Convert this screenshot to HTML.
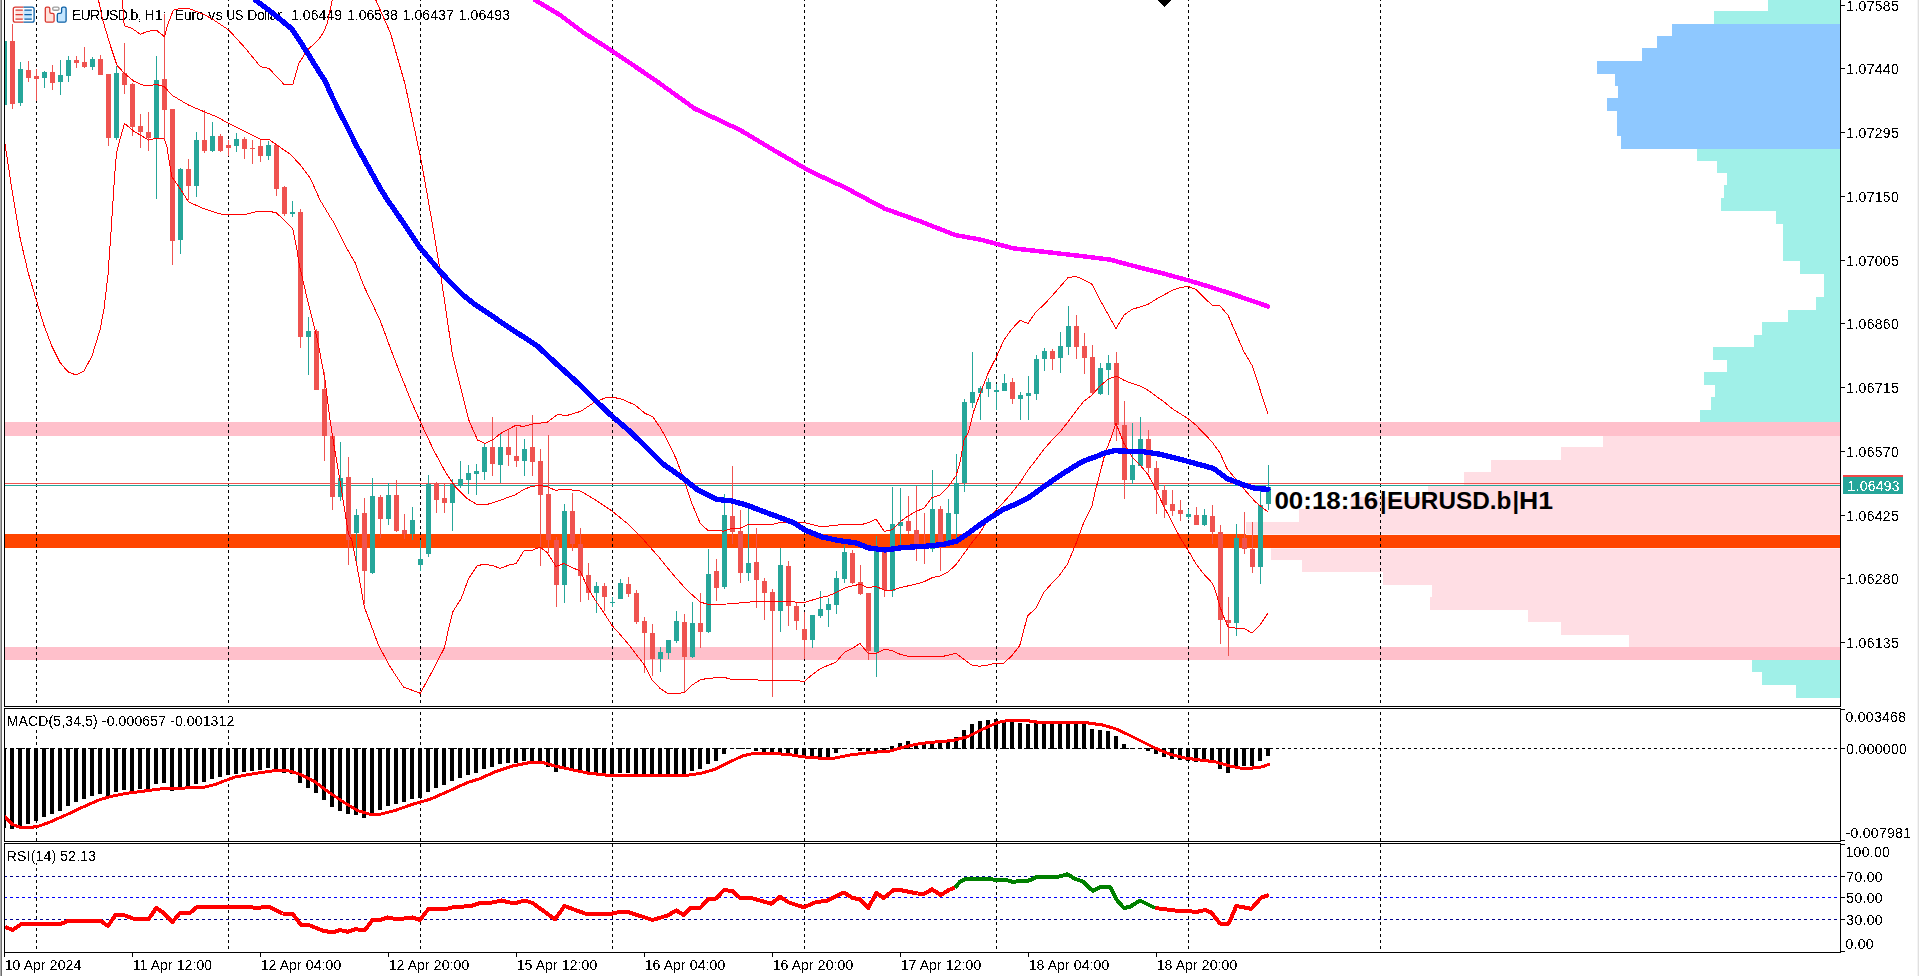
<!DOCTYPE html><html><head><meta charset="utf-8"><title>EURUSD.b H1</title><style>html,body{margin:0;padding:0;background:#fff;overflow:hidden}body{width:1919px;height:976px;position:relative;font-family:"Liberation Sans",sans-serif}</style></head><body><svg width="1919" height="976" viewBox="0 0 1919 976" style="position:absolute;left:0;top:0;font-family:'Liberation Sans',sans-serif;font-size:14px" shape-rendering="crispEdges">
<defs><clipPath id="cm"><rect x="5" y="0" width="1835" height="706"/></clipPath><clipPath id="cd"><rect x="5" y="709" width="1835" height="132"/></clipPath><clipPath id="cr"><rect x="5" y="844" width="1835" height="108"/></clipPath><filter id="th" x="-5%" y="-30%" width="110%" height="160%" color-interpolation-filters="sRGB"><feComponentTransfer><feFuncA type="discrete" tableValues="0 1"/></feComponentTransfer></filter></defs>
<rect x="0" y="0" width="1919" height="976" fill="#fff"/>
<g clip-path="url(#cm)">
<rect x="1768" y="0" width="72" height="11" fill="#A0F0E8"/>
<rect x="1714" y="11" width="126" height="13" fill="#A0F0E8"/>
<rect x="1672" y="24" width="168" height="12" fill="#8EC8FF"/>
<rect x="1657" y="36" width="183" height="12" fill="#8EC8FF"/>
<rect x="1642" y="48" width="198" height="13" fill="#8EC8FF"/>
<rect x="1597" y="61" width="243" height="13" fill="#8EC8FF"/>
<rect x="1615" y="74" width="225" height="12" fill="#8EC8FF"/>
<rect x="1618" y="86" width="222" height="12" fill="#8EC8FF"/>
<rect x="1607" y="98" width="233" height="13" fill="#8EC8FF"/>
<rect x="1617" y="111" width="223" height="12" fill="#8EC8FF"/>
<rect x="1617" y="123" width="223" height="13" fill="#8EC8FF"/>
<rect x="1621" y="136" width="219" height="13" fill="#8EC8FF"/>
<rect x="1697" y="149" width="143" height="12" fill="#A0F0E8"/>
<rect x="1717" y="161" width="123" height="12" fill="#A0F0E8"/>
<rect x="1727" y="173" width="113" height="12" fill="#A0F0E8"/>
<rect x="1724" y="185" width="116" height="13" fill="#A0F0E8"/>
<rect x="1721" y="198" width="119" height="13" fill="#A0F0E8"/>
<rect x="1776" y="211" width="64" height="13" fill="#A0F0E8"/>
<rect x="1783" y="224" width="57" height="12" fill="#A0F0E8"/>
<rect x="1783" y="236" width="57" height="12" fill="#A0F0E8"/>
<rect x="1783" y="248" width="57" height="13" fill="#A0F0E8"/>
<rect x="1800" y="261" width="40" height="13" fill="#A0F0E8"/>
<rect x="1824" y="274" width="16" height="12" fill="#A0F0E8"/>
<rect x="1824" y="286" width="16" height="11" fill="#A0F0E8"/>
<rect x="1816" y="297" width="24" height="13" fill="#A0F0E8"/>
<rect x="1788" y="310" width="52" height="12" fill="#A0F0E8"/>
<rect x="1762" y="322" width="78" height="13" fill="#A0F0E8"/>
<rect x="1754" y="335" width="86" height="12" fill="#A0F0E8"/>
<rect x="1713" y="347" width="127" height="13" fill="#A0F0E8"/>
<rect x="1727" y="360" width="113" height="12" fill="#A0F0E8"/>
<rect x="1704" y="372" width="136" height="13" fill="#A0F0E8"/>
<rect x="1715" y="385" width="125" height="12" fill="#A0F0E8"/>
<rect x="1711" y="397" width="129" height="13" fill="#A0F0E8"/>
<rect x="1700" y="410" width="140" height="12" fill="#A0F0E8"/>
<rect x="5" y="422" width="1835" height="14" fill="#FFC0CB"/>
<rect x="1603" y="436" width="237" height="11" fill="#FFDEE4"/>
<rect x="1561" y="447" width="279" height="13" fill="#FFDEE4"/>
<rect x="1491" y="460" width="349" height="12" fill="#FFDEE4"/>
<rect x="1464" y="472" width="376" height="13" fill="#FFDEE4"/>
<rect x="1428" y="485" width="412" height="12" fill="#FFDEE4"/>
<rect x="1350" y="497" width="490" height="12" fill="#FFDEE4"/>
<rect x="1299" y="509" width="541" height="13" fill="#FFDEE4"/>
<rect x="1246" y="522" width="594" height="13" fill="#FFDEE4"/>
<rect x="5" y="534" width="1835" height="14" fill="#FF4500"/>
<rect x="1271" y="548" width="569" height="12" fill="#FFDEE4"/>
<rect x="1302" y="560" width="538" height="12" fill="#FFDEE4"/>
<rect x="1383" y="572" width="457" height="13" fill="#FFDEE4"/>
<rect x="1432" y="585" width="408" height="12" fill="#FFDEE4"/>
<rect x="1430" y="597" width="410" height="13" fill="#FFDEE4"/>
<rect x="1528" y="610" width="312" height="12" fill="#FFDEE4"/>
<rect x="1561" y="622" width="279" height="13" fill="#FFDEE4"/>
<rect x="1629" y="635" width="211" height="12" fill="#FFDEE4"/>
<rect x="5" y="647" width="1835" height="13" fill="#FFC0CB"/>
<rect x="1752" y="660" width="88" height="12" fill="#A0F0E8"/>
<rect x="1762" y="672" width="78" height="13" fill="#A0F0E8"/>
<rect x="1796" y="685" width="44" height="13" fill="#A0F0E8"/>
<rect x="1246" y="534" width="594" height="1" fill="#FFEBF0"/>
<rect x="1271" y="548" width="569" height="1" fill="#FFEBF0"/>
</g>
<line x1="36.5" y1="-2" x2="36.5" y2="706" stroke="#000" stroke-width="1" stroke-dasharray="3 3" clip-path="url(#cm)"/>
<line x1="36.5" y1="-2" x2="36.5" y2="841" stroke="#000" stroke-width="1" stroke-dasharray="3 3" clip-path="url(#cd)"/>
<line x1="36.5" y1="-2" x2="36.5" y2="952" stroke="#000" stroke-width="1" stroke-dasharray="3 3" clip-path="url(#cr)"/>
<line x1="228.5" y1="-2" x2="228.5" y2="706" stroke="#000" stroke-width="1" stroke-dasharray="3 3" clip-path="url(#cm)"/>
<line x1="228.5" y1="-2" x2="228.5" y2="841" stroke="#000" stroke-width="1" stroke-dasharray="3 3" clip-path="url(#cd)"/>
<line x1="228.5" y1="-2" x2="228.5" y2="952" stroke="#000" stroke-width="1" stroke-dasharray="3 3" clip-path="url(#cr)"/>
<line x1="420.5" y1="-2" x2="420.5" y2="706" stroke="#000" stroke-width="1" stroke-dasharray="3 3" clip-path="url(#cm)"/>
<line x1="420.5" y1="-2" x2="420.5" y2="841" stroke="#000" stroke-width="1" stroke-dasharray="3 3" clip-path="url(#cd)"/>
<line x1="420.5" y1="-2" x2="420.5" y2="952" stroke="#000" stroke-width="1" stroke-dasharray="3 3" clip-path="url(#cr)"/>
<line x1="612.5" y1="-2" x2="612.5" y2="706" stroke="#000" stroke-width="1" stroke-dasharray="3 3" clip-path="url(#cm)"/>
<line x1="612.5" y1="-2" x2="612.5" y2="841" stroke="#000" stroke-width="1" stroke-dasharray="3 3" clip-path="url(#cd)"/>
<line x1="612.5" y1="-2" x2="612.5" y2="952" stroke="#000" stroke-width="1" stroke-dasharray="3 3" clip-path="url(#cr)"/>
<line x1="804.5" y1="-2" x2="804.5" y2="706" stroke="#000" stroke-width="1" stroke-dasharray="3 3" clip-path="url(#cm)"/>
<line x1="804.5" y1="-2" x2="804.5" y2="841" stroke="#000" stroke-width="1" stroke-dasharray="3 3" clip-path="url(#cd)"/>
<line x1="804.5" y1="-2" x2="804.5" y2="952" stroke="#000" stroke-width="1" stroke-dasharray="3 3" clip-path="url(#cr)"/>
<line x1="996.5" y1="-2" x2="996.5" y2="706" stroke="#000" stroke-width="1" stroke-dasharray="3 3" clip-path="url(#cm)"/>
<line x1="996.5" y1="-2" x2="996.5" y2="841" stroke="#000" stroke-width="1" stroke-dasharray="3 3" clip-path="url(#cd)"/>
<line x1="996.5" y1="-2" x2="996.5" y2="952" stroke="#000" stroke-width="1" stroke-dasharray="3 3" clip-path="url(#cr)"/>
<line x1="1188.5" y1="-2" x2="1188.5" y2="706" stroke="#000" stroke-width="1" stroke-dasharray="3 3" clip-path="url(#cm)"/>
<line x1="1188.5" y1="-2" x2="1188.5" y2="841" stroke="#000" stroke-width="1" stroke-dasharray="3 3" clip-path="url(#cd)"/>
<line x1="1188.5" y1="-2" x2="1188.5" y2="952" stroke="#000" stroke-width="1" stroke-dasharray="3 3" clip-path="url(#cr)"/>
<line x1="1380.5" y1="-2" x2="1380.5" y2="706" stroke="#000" stroke-width="1" stroke-dasharray="3 3" clip-path="url(#cm)"/>
<line x1="1380.5" y1="-2" x2="1380.5" y2="841" stroke="#000" stroke-width="1" stroke-dasharray="3 3" clip-path="url(#cd)"/>
<line x1="1380.5" y1="-2" x2="1380.5" y2="952" stroke="#000" stroke-width="1" stroke-dasharray="3 3" clip-path="url(#cr)"/>
<g clip-path="url(#cm)">
<rect x="5" y="483" width="1835" height="1" fill="#EF5350"/>
<rect x="5" y="485" width="1835" height="1" fill="#26A69A"/>
<text filter="url(#th)" x="71.9" y="20" fill="#000" textLength="69.7" lengthAdjust="spacing">EURUSD.b,</text>
<text filter="url(#th)" x="144.6" y="20" fill="#000" textLength="22.0" lengthAdjust="spacing">H1:</text>
<text filter="url(#th)" x="174.5" y="20" fill="#000" textLength="29.3" lengthAdjust="spacing">Euro</text>
<text filter="url(#th)" x="208.2" y="20" fill="#000" textLength="14.6" lengthAdjust="spacing">vs</text>
<text filter="url(#th)" x="226.5" y="20" fill="#000" textLength="16.7" lengthAdjust="spacingAndGlyphs">US</text>
<text filter="url(#th)" x="247.2" y="20" fill="#000" textLength="34.6" lengthAdjust="spacing">Dollar</text>
<text filter="url(#th)" x="291.0" y="20" fill="#000" textLength="51.0" lengthAdjust="spacing">1.06449</text>
<text filter="url(#th)" x="347.0" y="20" fill="#000" textLength="50.8" lengthAdjust="spacing">1.06538</text>
<text filter="url(#th)" x="402.6" y="20" fill="#000" textLength="51.1" lengthAdjust="spacing">1.06437</text>
<text filter="url(#th)" x="458.6" y="20" fill="#000" textLength="51.4" lengthAdjust="spacing">1.06493</text>
<g shape-rendering="auto"><rect x="15.3" y="10.2" width="8.2" height="9" fill="#FFE3DC"/><rect x="23.5" y="10.2" width="8.3" height="9" fill="#C4E6FF"/><path d="M23.5 7.1 H15.3 Q13.3 7.1 13.3 9.1 V20.2 Q13.3 22.2 15.3 22.2 H23.5" fill="none" stroke="#D9372F" stroke-width="1.3"/><path d="M23.5 7.1 H32.1 Q34.1 7.1 34.1 9.1 V20.2 Q34.1 22.2 32.1 22.2 H23.5" fill="none" stroke="#0B5FA5" stroke-width="1.3"/><path d="M15.5 10.2 H22.8 M15.5 14.7 H22.8 M15.5 19.2 H22.8" stroke="#D9372F" stroke-width="1.3" fill="none"/><path d="M24.4 10.2 H31.8 M24.4 14.7 H31.8 M24.4 19.2 H31.8" stroke="#0B5FA5" stroke-width="1.3" fill="none"/><rect x="13.3" y="11.6" width="0" height="0"/><path d="M46.8 7.1 H48.3 Q49.8 7.1 49.8 8.6 V12.0 Q49.8 13.4 51.3 13.4 H52.6 Q54.1 13.4 54.1 14.9 V20.7 Q54.1 22.2 52.6 22.2 H46.8 Q45.3 22.2 45.3 20.7 V8.6 Q45.3 7.1 46.8 7.1 Z" fill="#FFE3DC" stroke="#D9372F" stroke-width="1.3"/><path d="M64.6 7.1 H63.1 Q61.6 7.1 61.6 8.6 V12.0 Q61.6 13.4 60.1 13.4 H58.8 Q57.3 13.4 57.3 14.9 V20.7 Q57.3 22.2 58.8 22.2 H64.6 Q66.1 22.2 66.1 20.7 V8.6 Q66.1 7.1 64.6 7.1 Z" fill="#C4E6FF" stroke="#0B5FA5" stroke-width="1.3"/><rect x="52.7" y="7.1" width="6.3" height="3.2" rx="1.4" fill="#fff" stroke="#9E9E9E" stroke-width="1.4"/></g>
<rect x="4" y="41" width="1" height="64" fill="#26A69A"/>
<rect x="2" y="41" width="5" height="64" fill="#26A69A"/>
<rect x="12" y="24" width="1" height="85" fill="#EF5350"/>
<rect x="10" y="41" width="5" height="63" fill="#EF5350"/>
<rect x="20" y="62" width="1" height="44" fill="#26A69A"/>
<rect x="18" y="69" width="5" height="34" fill="#26A69A"/>
<rect x="28" y="61" width="1" height="21" fill="#EF5350"/>
<rect x="26" y="70" width="5" height="8" fill="#EF5350"/>
<rect x="36" y="69" width="1" height="32" fill="#EF5350"/>
<rect x="34" y="76" width="5" height="3" fill="#EF5350"/>
<rect x="44" y="71" width="1" height="17" fill="#26A69A"/>
<rect x="42" y="72" width="5" height="6" fill="#26A69A"/>
<rect x="52" y="65" width="1" height="25" fill="#EF5350"/>
<rect x="50" y="72" width="5" height="11" fill="#EF5350"/>
<rect x="60" y="60" width="1" height="35" fill="#26A69A"/>
<rect x="58" y="75" width="5" height="7" fill="#26A69A"/>
<rect x="68" y="56" width="1" height="26" fill="#26A69A"/>
<rect x="66" y="60" width="5" height="16" fill="#26A69A"/>
<rect x="76" y="56" width="1" height="12" fill="#EF5350"/>
<rect x="74" y="60" width="5" height="3" fill="#EF5350"/>
<rect x="84" y="47" width="1" height="21" fill="#EF5350"/>
<rect x="82" y="62" width="5" height="5" fill="#EF5350"/>
<rect x="92" y="57" width="1" height="13" fill="#26A69A"/>
<rect x="90" y="59" width="5" height="8" fill="#26A69A"/>
<rect x="100" y="55" width="1" height="20" fill="#EF5350"/>
<rect x="98" y="59" width="5" height="16" fill="#EF5350"/>
<rect x="108" y="74" width="1" height="72" fill="#EF5350"/>
<rect x="106" y="74" width="5" height="64" fill="#EF5350"/>
<rect x="116" y="66" width="1" height="74" fill="#26A69A"/>
<rect x="114" y="73" width="5" height="65" fill="#26A69A"/>
<rect x="124" y="43" width="1" height="51" fill="#EF5350"/>
<rect x="122" y="73" width="5" height="12" fill="#EF5350"/>
<rect x="132" y="83" width="1" height="53" fill="#EF5350"/>
<rect x="130" y="84" width="5" height="43" fill="#EF5350"/>
<rect x="140" y="114" width="1" height="34" fill="#EF5350"/>
<rect x="138" y="126" width="5" height="6" fill="#EF5350"/>
<rect x="148" y="112" width="1" height="39" fill="#EF5350"/>
<rect x="146" y="132" width="5" height="6" fill="#EF5350"/>
<rect x="156" y="56" width="1" height="143" fill="#26A69A"/>
<rect x="154" y="80" width="5" height="58" fill="#26A69A"/>
<rect x="164" y="14" width="1" height="126" fill="#EF5350"/>
<rect x="162" y="79" width="5" height="31" fill="#EF5350"/>
<rect x="172" y="109" width="1" height="156" fill="#EF5350"/>
<rect x="170" y="109" width="5" height="132" fill="#EF5350"/>
<rect x="180" y="168" width="1" height="86" fill="#26A69A"/>
<rect x="178" y="169" width="5" height="71" fill="#26A69A"/>
<rect x="188" y="159" width="1" height="41" fill="#EF5350"/>
<rect x="186" y="169" width="5" height="17" fill="#EF5350"/>
<rect x="196" y="132" width="1" height="65" fill="#26A69A"/>
<rect x="194" y="140" width="5" height="46" fill="#26A69A"/>
<rect x="204" y="110" width="1" height="43" fill="#EF5350"/>
<rect x="202" y="140" width="5" height="11" fill="#EF5350"/>
<rect x="212" y="122" width="1" height="30" fill="#26A69A"/>
<rect x="210" y="136" width="5" height="15" fill="#26A69A"/>
<rect x="220" y="134" width="1" height="18" fill="#EF5350"/>
<rect x="218" y="136" width="5" height="15" fill="#EF5350"/>
<rect x="228" y="140" width="1" height="16" fill="#EF5350"/>
<rect x="226" y="145" width="5" height="3" fill="#EF5350"/>
<rect x="236" y="133" width="1" height="19" fill="#26A69A"/>
<rect x="234" y="139" width="5" height="7" fill="#26A69A"/>
<rect x="244" y="137" width="1" height="22" fill="#EF5350"/>
<rect x="242" y="139" width="5" height="10" fill="#EF5350"/>
<rect x="252" y="140" width="1" height="24" fill="#EF5350"/>
<rect x="250" y="148" width="5" height="1" fill="#EF5350"/>
<rect x="260" y="139" width="1" height="23" fill="#EF5350"/>
<rect x="258" y="146" width="5" height="10" fill="#EF5350"/>
<rect x="268" y="141" width="1" height="19" fill="#26A69A"/>
<rect x="266" y="145" width="5" height="11" fill="#26A69A"/>
<rect x="276" y="145" width="1" height="51" fill="#EF5350"/>
<rect x="274" y="145" width="5" height="44" fill="#EF5350"/>
<rect x="284" y="186" width="1" height="30" fill="#EF5350"/>
<rect x="282" y="187" width="5" height="27" fill="#EF5350"/>
<rect x="292" y="201" width="1" height="16" fill="#26A69A"/>
<rect x="290" y="212" width="5" height="2" fill="#26A69A"/>
<rect x="300" y="209" width="1" height="139" fill="#EF5350"/>
<rect x="298" y="212" width="5" height="125" fill="#EF5350"/>
<rect x="308" y="317" width="1" height="58" fill="#26A69A"/>
<rect x="306" y="331" width="5" height="6" fill="#26A69A"/>
<rect x="316" y="329" width="1" height="61" fill="#EF5350"/>
<rect x="314" y="331" width="5" height="59" fill="#EF5350"/>
<rect x="324" y="372" width="1" height="89" fill="#EF5350"/>
<rect x="322" y="389" width="5" height="47" fill="#EF5350"/>
<rect x="332" y="436" width="1" height="74" fill="#EF5350"/>
<rect x="330" y="436" width="5" height="61" fill="#EF5350"/>
<rect x="340" y="442" width="1" height="59" fill="#26A69A"/>
<rect x="338" y="478" width="5" height="19" fill="#26A69A"/>
<rect x="348" y="457" width="1" height="108" fill="#EF5350"/>
<rect x="346" y="477" width="5" height="63" fill="#EF5350"/>
<rect x="356" y="509" width="1" height="53" fill="#26A69A"/>
<rect x="354" y="515" width="5" height="18" fill="#26A69A"/>
<rect x="364" y="498" width="1" height="106" fill="#EF5350"/>
<rect x="362" y="513" width="5" height="58" fill="#EF5350"/>
<rect x="372" y="478" width="1" height="96" fill="#26A69A"/>
<rect x="370" y="496" width="5" height="77" fill="#26A69A"/>
<rect x="380" y="495" width="1" height="43" fill="#EF5350"/>
<rect x="378" y="497" width="5" height="22" fill="#EF5350"/>
<rect x="388" y="483" width="1" height="42" fill="#26A69A"/>
<rect x="386" y="495" width="5" height="24" fill="#26A69A"/>
<rect x="396" y="480" width="1" height="52" fill="#EF5350"/>
<rect x="394" y="495" width="5" height="36" fill="#EF5350"/>
<rect x="404" y="514" width="1" height="25" fill="#EF5350"/>
<rect x="402" y="530" width="5" height="4" fill="#EF5350"/>
<rect x="412" y="507" width="1" height="33" fill="#26A69A"/>
<rect x="410" y="520" width="5" height="14" fill="#26A69A"/>
<rect x="420" y="540" width="1" height="31" fill="#26A69A"/>
<rect x="418" y="559" width="5" height="6" fill="#26A69A"/>
<rect x="428" y="475" width="1" height="82" fill="#26A69A"/>
<rect x="426" y="484" width="5" height="70" fill="#26A69A"/>
<rect x="436" y="482" width="1" height="31" fill="#EF5350"/>
<rect x="434" y="483" width="5" height="17" fill="#EF5350"/>
<rect x="444" y="484" width="1" height="29" fill="#EF5350"/>
<rect x="442" y="498" width="5" height="5" fill="#EF5350"/>
<rect x="452" y="479" width="1" height="52" fill="#26A69A"/>
<rect x="450" y="484" width="5" height="19" fill="#26A69A"/>
<rect x="460" y="461" width="1" height="27" fill="#26A69A"/>
<rect x="458" y="479" width="5" height="7" fill="#26A69A"/>
<rect x="468" y="465" width="1" height="29" fill="#26A69A"/>
<rect x="466" y="473" width="5" height="7" fill="#26A69A"/>
<rect x="476" y="464" width="1" height="31" fill="#26A69A"/>
<rect x="474" y="471" width="5" height="3" fill="#26A69A"/>
<rect x="484" y="443" width="1" height="37" fill="#26A69A"/>
<rect x="482" y="447" width="5" height="25" fill="#26A69A"/>
<rect x="492" y="417" width="1" height="59" fill="#EF5350"/>
<rect x="490" y="447" width="5" height="17" fill="#EF5350"/>
<rect x="500" y="433" width="1" height="50" fill="#26A69A"/>
<rect x="498" y="447" width="5" height="18" fill="#26A69A"/>
<rect x="508" y="430" width="1" height="36" fill="#EF5350"/>
<rect x="506" y="447" width="5" height="8" fill="#EF5350"/>
<rect x="516" y="427" width="1" height="40" fill="#EF5350"/>
<rect x="514" y="456" width="5" height="5" fill="#EF5350"/>
<rect x="524" y="439" width="1" height="37" fill="#26A69A"/>
<rect x="522" y="449" width="5" height="12" fill="#26A69A"/>
<rect x="532" y="415" width="1" height="61" fill="#EF5350"/>
<rect x="530" y="447" width="5" height="15" fill="#EF5350"/>
<rect x="540" y="449" width="1" height="117" fill="#EF5350"/>
<rect x="538" y="461" width="5" height="34" fill="#EF5350"/>
<rect x="548" y="435" width="1" height="118" fill="#EF5350"/>
<rect x="546" y="494" width="5" height="46" fill="#EF5350"/>
<rect x="556" y="537" width="1" height="70" fill="#EF5350"/>
<rect x="554" y="540" width="5" height="45" fill="#EF5350"/>
<rect x="564" y="504" width="1" height="99" fill="#26A69A"/>
<rect x="562" y="511" width="5" height="74" fill="#26A69A"/>
<rect x="572" y="493" width="1" height="58" fill="#EF5350"/>
<rect x="570" y="511" width="5" height="33" fill="#EF5350"/>
<rect x="580" y="528" width="1" height="74" fill="#EF5350"/>
<rect x="578" y="544" width="5" height="32" fill="#EF5350"/>
<rect x="588" y="563" width="1" height="37" fill="#EF5350"/>
<rect x="586" y="575" width="5" height="18" fill="#EF5350"/>
<rect x="596" y="582" width="1" height="31" fill="#26A69A"/>
<rect x="594" y="586" width="5" height="7" fill="#26A69A"/>
<rect x="604" y="583" width="1" height="28" fill="#EF5350"/>
<rect x="602" y="586" width="5" height="11" fill="#EF5350"/>
<rect x="612" y="597" width="1" height="10" fill="#26A69A"/>
<rect x="610" y="602" width="5" height="1" fill="#26A69A"/>
<rect x="620" y="579" width="1" height="20" fill="#26A69A"/>
<rect x="618" y="583" width="5" height="16" fill="#26A69A"/>
<rect x="628" y="577" width="1" height="20" fill="#EF5350"/>
<rect x="626" y="584" width="5" height="10" fill="#EF5350"/>
<rect x="636" y="590" width="1" height="34" fill="#EF5350"/>
<rect x="634" y="593" width="5" height="29" fill="#EF5350"/>
<rect x="644" y="617" width="1" height="56" fill="#EF5350"/>
<rect x="642" y="621" width="5" height="12" fill="#EF5350"/>
<rect x="652" y="624" width="1" height="52" fill="#EF5350"/>
<rect x="650" y="633" width="5" height="26" fill="#EF5350"/>
<rect x="660" y="647" width="1" height="25" fill="#26A69A"/>
<rect x="658" y="652" width="5" height="7" fill="#26A69A"/>
<rect x="668" y="640" width="1" height="19" fill="#26A69A"/>
<rect x="666" y="640" width="5" height="13" fill="#26A69A"/>
<rect x="676" y="611" width="1" height="32" fill="#26A69A"/>
<rect x="674" y="621" width="5" height="20" fill="#26A69A"/>
<rect x="684" y="614" width="1" height="79" fill="#EF5350"/>
<rect x="682" y="622" width="5" height="35" fill="#EF5350"/>
<rect x="692" y="602" width="1" height="56" fill="#26A69A"/>
<rect x="690" y="623" width="5" height="34" fill="#26A69A"/>
<rect x="700" y="593" width="1" height="55" fill="#EF5350"/>
<rect x="698" y="623" width="5" height="9" fill="#EF5350"/>
<rect x="708" y="549" width="1" height="84" fill="#26A69A"/>
<rect x="706" y="574" width="5" height="58" fill="#26A69A"/>
<rect x="716" y="559" width="1" height="42" fill="#EF5350"/>
<rect x="714" y="571" width="5" height="17" fill="#EF5350"/>
<rect x="724" y="494" width="1" height="95" fill="#26A69A"/>
<rect x="722" y="515" width="5" height="72" fill="#26A69A"/>
<rect x="732" y="466" width="1" height="78" fill="#EF5350"/>
<rect x="730" y="516" width="5" height="16" fill="#EF5350"/>
<rect x="740" y="510" width="1" height="73" fill="#EF5350"/>
<rect x="738" y="531" width="5" height="42" fill="#EF5350"/>
<rect x="748" y="509" width="1" height="72" fill="#26A69A"/>
<rect x="746" y="563" width="5" height="10" fill="#26A69A"/>
<rect x="756" y="528" width="1" height="80" fill="#EF5350"/>
<rect x="754" y="562" width="5" height="18" fill="#EF5350"/>
<rect x="764" y="578" width="1" height="42" fill="#EF5350"/>
<rect x="762" y="581" width="5" height="12" fill="#EF5350"/>
<rect x="772" y="589" width="1" height="108" fill="#EF5350"/>
<rect x="770" y="592" width="5" height="19" fill="#EF5350"/>
<rect x="780" y="548" width="1" height="84" fill="#26A69A"/>
<rect x="778" y="565" width="5" height="46" fill="#26A69A"/>
<rect x="788" y="561" width="1" height="65" fill="#EF5350"/>
<rect x="786" y="566" width="5" height="40" fill="#EF5350"/>
<rect x="796" y="602" width="1" height="28" fill="#EF5350"/>
<rect x="794" y="606" width="5" height="15" fill="#EF5350"/>
<rect x="804" y="612" width="1" height="47" fill="#EF5350"/>
<rect x="802" y="629" width="5" height="11" fill="#EF5350"/>
<rect x="812" y="615" width="1" height="33" fill="#26A69A"/>
<rect x="810" y="615" width="5" height="25" fill="#26A69A"/>
<rect x="820" y="591" width="1" height="27" fill="#26A69A"/>
<rect x="818" y="609" width="5" height="7" fill="#26A69A"/>
<rect x="828" y="598" width="1" height="29" fill="#26A69A"/>
<rect x="826" y="604" width="5" height="6" fill="#26A69A"/>
<rect x="836" y="571" width="1" height="43" fill="#26A69A"/>
<rect x="834" y="578" width="5" height="27" fill="#26A69A"/>
<rect x="844" y="545" width="1" height="38" fill="#26A69A"/>
<rect x="842" y="552" width="5" height="27" fill="#26A69A"/>
<rect x="852" y="550" width="1" height="34" fill="#EF5350"/>
<rect x="850" y="553" width="5" height="30" fill="#EF5350"/>
<rect x="860" y="565" width="1" height="30" fill="#EF5350"/>
<rect x="858" y="582" width="5" height="12" fill="#EF5350"/>
<rect x="868" y="593" width="1" height="67" fill="#EF5350"/>
<rect x="866" y="593" width="5" height="58" fill="#EF5350"/>
<rect x="876" y="536" width="1" height="141" fill="#26A69A"/>
<rect x="874" y="551" width="5" height="101" fill="#26A69A"/>
<rect x="884" y="549" width="1" height="48" fill="#EF5350"/>
<rect x="882" y="550" width="5" height="40" fill="#EF5350"/>
<rect x="892" y="487" width="1" height="110" fill="#26A69A"/>
<rect x="890" y="524" width="5" height="67" fill="#26A69A"/>
<rect x="900" y="488" width="1" height="58" fill="#26A69A"/>
<rect x="898" y="522" width="5" height="4" fill="#26A69A"/>
<rect x="908" y="496" width="1" height="38" fill="#EF5350"/>
<rect x="906" y="521" width="5" height="10" fill="#EF5350"/>
<rect x="916" y="486" width="1" height="75" fill="#EF5350"/>
<rect x="914" y="530" width="5" height="19" fill="#EF5350"/>
<rect x="924" y="513" width="1" height="51" fill="#EF5350"/>
<rect x="922" y="546" width="5" height="2" fill="#EF5350"/>
<rect x="932" y="470" width="1" height="82" fill="#26A69A"/>
<rect x="930" y="509" width="5" height="40" fill="#26A69A"/>
<rect x="940" y="506" width="1" height="65" fill="#EF5350"/>
<rect x="938" y="509" width="5" height="38" fill="#EF5350"/>
<rect x="948" y="499" width="1" height="46" fill="#26A69A"/>
<rect x="946" y="513" width="5" height="31" fill="#26A69A"/>
<rect x="956" y="454" width="1" height="86" fill="#26A69A"/>
<rect x="954" y="483" width="5" height="31" fill="#26A69A"/>
<rect x="964" y="399" width="1" height="93" fill="#26A69A"/>
<rect x="962" y="402" width="5" height="81" fill="#26A69A"/>
<rect x="972" y="352" width="1" height="56" fill="#26A69A"/>
<rect x="970" y="392" width="5" height="11" fill="#26A69A"/>
<rect x="980" y="386" width="1" height="34" fill="#26A69A"/>
<rect x="978" y="388" width="5" height="5" fill="#26A69A"/>
<rect x="988" y="378" width="1" height="19" fill="#26A69A"/>
<rect x="986" y="382" width="5" height="7" fill="#26A69A"/>
<rect x="996" y="384" width="1" height="26" fill="#26A69A"/>
<rect x="994" y="390" width="5" height="2" fill="#26A69A"/>
<rect x="1004" y="374" width="1" height="17" fill="#26A69A"/>
<rect x="1002" y="383" width="5" height="8" fill="#26A69A"/>
<rect x="1012" y="378" width="1" height="26" fill="#EF5350"/>
<rect x="1010" y="382" width="5" height="17" fill="#EF5350"/>
<rect x="1020" y="392" width="1" height="28" fill="#26A69A"/>
<rect x="1018" y="395" width="5" height="4" fill="#26A69A"/>
<rect x="1028" y="376" width="1" height="44" fill="#26A69A"/>
<rect x="1026" y="393" width="5" height="3" fill="#26A69A"/>
<rect x="1036" y="355" width="1" height="45" fill="#26A69A"/>
<rect x="1034" y="359" width="5" height="35" fill="#26A69A"/>
<rect x="1044" y="348" width="1" height="23" fill="#26A69A"/>
<rect x="1042" y="351" width="5" height="8" fill="#26A69A"/>
<rect x="1052" y="349" width="1" height="21" fill="#EF5350"/>
<rect x="1050" y="351" width="5" height="8" fill="#EF5350"/>
<rect x="1060" y="332" width="1" height="41" fill="#26A69A"/>
<rect x="1058" y="346" width="5" height="12" fill="#26A69A"/>
<rect x="1068" y="306" width="1" height="49" fill="#26A69A"/>
<rect x="1066" y="326" width="5" height="21" fill="#26A69A"/>
<rect x="1076" y="315" width="1" height="44" fill="#EF5350"/>
<rect x="1074" y="326" width="5" height="21" fill="#EF5350"/>
<rect x="1084" y="333" width="1" height="41" fill="#EF5350"/>
<rect x="1082" y="346" width="5" height="12" fill="#EF5350"/>
<rect x="1092" y="345" width="1" height="50" fill="#EF5350"/>
<rect x="1090" y="357" width="5" height="36" fill="#EF5350"/>
<rect x="1100" y="363" width="1" height="32" fill="#26A69A"/>
<rect x="1098" y="368" width="5" height="26" fill="#26A69A"/>
<rect x="1108" y="355" width="1" height="40" fill="#26A69A"/>
<rect x="1106" y="363" width="5" height="7" fill="#26A69A"/>
<rect x="1116" y="352" width="1" height="89" fill="#EF5350"/>
<rect x="1114" y="363" width="5" height="62" fill="#EF5350"/>
<rect x="1124" y="401" width="1" height="98" fill="#EF5350"/>
<rect x="1122" y="425" width="5" height="55" fill="#EF5350"/>
<rect x="1132" y="423" width="1" height="61" fill="#26A69A"/>
<rect x="1130" y="465" width="5" height="15" fill="#26A69A"/>
<rect x="1140" y="417" width="1" height="49" fill="#26A69A"/>
<rect x="1138" y="439" width="5" height="27" fill="#26A69A"/>
<rect x="1148" y="430" width="1" height="43" fill="#EF5350"/>
<rect x="1146" y="439" width="5" height="29" fill="#EF5350"/>
<rect x="1156" y="461" width="1" height="53" fill="#EF5350"/>
<rect x="1154" y="468" width="5" height="22" fill="#EF5350"/>
<rect x="1164" y="485" width="1" height="33" fill="#EF5350"/>
<rect x="1162" y="490" width="5" height="15" fill="#EF5350"/>
<rect x="1172" y="490" width="1" height="26" fill="#EF5350"/>
<rect x="1170" y="504" width="5" height="7" fill="#EF5350"/>
<rect x="1180" y="500" width="1" height="21" fill="#EF5350"/>
<rect x="1178" y="510" width="5" height="4" fill="#EF5350"/>
<rect x="1188" y="509" width="1" height="10" fill="#26A69A"/>
<rect x="1186" y="514" width="5" height="3" fill="#26A69A"/>
<rect x="1196" y="507" width="1" height="18" fill="#EF5350"/>
<rect x="1194" y="515" width="5" height="10" fill="#EF5350"/>
<rect x="1204" y="509" width="1" height="17" fill="#26A69A"/>
<rect x="1202" y="515" width="5" height="10" fill="#26A69A"/>
<rect x="1212" y="505" width="1" height="39" fill="#EF5350"/>
<rect x="1210" y="516" width="5" height="16" fill="#EF5350"/>
<rect x="1220" y="525" width="1" height="119" fill="#EF5350"/>
<rect x="1218" y="532" width="5" height="88" fill="#EF5350"/>
<rect x="1228" y="597" width="1" height="59" fill="#EF5350"/>
<rect x="1226" y="620" width="5" height="3" fill="#EF5350"/>
<rect x="1236" y="524" width="1" height="112" fill="#26A69A"/>
<rect x="1234" y="538" width="5" height="85" fill="#26A69A"/>
<rect x="1244" y="512" width="1" height="42" fill="#EF5350"/>
<rect x="1242" y="538" width="5" height="11" fill="#EF5350"/>
<rect x="1252" y="522" width="1" height="51" fill="#EF5350"/>
<rect x="1250" y="549" width="5" height="18" fill="#EF5350"/>
<rect x="1260" y="486" width="1" height="98" fill="#26A69A"/>
<rect x="1258" y="505" width="5" height="62" fill="#26A69A"/>
<rect x="1268" y="465" width="1" height="45" fill="#26A69A"/>
<rect x="1266" y="487" width="5" height="17" fill="#26A69A"/>
<polyline points="122.5,0.0 123.6,20.0 124.4,25.8 132.0,28.4 140.3,34.2 147.8,31.4 156.2,30.0 164.5,36.7 167.0,26.7 169.5,20.0 173.3,10.2 180.0,8.5 187.9,8.0 204.3,14.6 213.8,20.0 228.8,30.0 245.5,48.4 260.5,66.8 268.9,68.4 283.9,84.3 292.9,84.3 298.8,63.5 303.0,56.8 307.1,50.1 313.8,44.3 318.8,39.2 323.8,31.7 327.2,23.4 330.5,8.4 332.2,0.0" fill="none" stroke="#FF0000" stroke-width="1" stroke-linejoin="bevel"/>
<polyline points="375.8,0.0 390.4,32.8 405.0,83.9 419.6,153.2 421.1,160.0 427.0,193.4 433.7,231.8 440.0,270.0 446.2,312.5 452.5,355.0 460.0,385.0 468.8,420.0 477.5,440.0 485.0,443.5 493.7,439.2 500.0,433.8 505.4,430.9 515.5,425.4 523.8,426.4 533.8,423.9 547.2,422.3 557.2,414.7 567.2,415.4 580.6,411.4 594.0,402.5 596.7,401.7 605.6,397.6 612.5,397.0 622.6,399.5 635.1,405.0 645.1,413.4 652.7,416.7 660.2,427.6 666.8,439.2 676.0,458.5 683.5,478.5 691.9,503.5 700.3,523.6 707.9,530.3 724.0,531.1 732.0,528.3 740.0,528.3 748.0,524.4 772.1,524.4 780.1,522.4 804.0,522.4 812.0,524.4 820.0,526.4 828.0,526.1 844.0,524.4 860.1,524.9 868.1,522.8 876.1,519.1 884.1,531.3 892.2,529.8 900.0,521.8 908.0,516.0 916.0,511.5 924.0,508.1 932.0,497.6 940.0,495.1 948.0,486.8 956.0,475.9 960.2,461.7 964.0,440.0 968.5,432.0 973.5,411.9 980.2,393.5 988.0,373.5 996.0,357.7 1004.0,339.8 1012.0,328.9 1020.0,320.3 1028.0,323.5 1036.0,311.8 1044.0,304.6 1052.0,295.9 1060.0,286.8 1068.0,277.6 1076.0,276.5 1084.0,279.8 1092.0,284.3 1100.0,300.0 1108.0,314.3 1116.0,328.5 1124.0,315.2 1132.0,309.3 1140.0,307.0 1148.0,304.3 1156.0,299.3 1164.0,294.9 1172.0,290.5 1180.0,287.6 1188.0,286.5 1196.0,289.3 1204.0,297.5 1212.0,305.1 1220.0,306.0 1228.0,315.2 1236.0,333.6 1244.0,351.9 1252.0,365.3 1257.2,380.3 1262.0,396.0 1268.0,414.0" fill="none" stroke="#FF0000" stroke-width="1" stroke-linejoin="bevel"/>
<polyline points="98.5,0.0 102.7,20.0 110.2,45.0 116.9,65.1 124.4,73.4 133.6,81.0 142.0,84.8 148.6,86.0 156.2,84.3 164.5,86.8 172.0,95.2 188.7,105.2 204.6,111.9 217.1,116.9 228.8,123.5 245.5,131.9 260.5,139.4 268.9,139.4 277.2,145.3 290.6,154.4 300.6,165.3 310.6,178.7 320.0,200.0 330.1,216.8 333.8,222.5 346.8,248.5 355.0,262.5 363.5,285.3 380.0,320.0 392.0,352.5 401.3,376.5 405.0,385.5 409.4,397.0 420.3,421.7 433.6,450.1 445.3,471.8 455.3,486.8 467.0,498.5 477.0,504.4 487.1,504.4 497.1,501.5 507.1,497.7 515.5,494.7 523.8,489.4 532.2,486.3 540.5,485.5 547.2,486.8 555.5,490.2 567.2,489.4 580.3,491.0 595.9,500.2 612.1,511.1 628.4,524.4 644.0,540.3 658.5,556.7 673.5,575.1 686.9,590.1 700.3,602.1 707.9,604.3 727.0,604.0 743.7,602.6 755.4,601.5 772.1,601.8 787.9,601.5 803.8,602.6 812.2,600.1 820.5,597.6 828.0,596.0 836.0,592.6 843.9,588.4 852.0,585.9 860.1,584.3 868.0,587.7 876.0,586.4 884.0,590.0 892.0,590.3 900.0,587.7 916.0,584.1 924.0,581.8 932.0,577.7 940.0,576.0 948.0,572.0 956.0,564.7 964.0,553.6 971.9,542.7 979.9,532.7 988.0,520.2 996.0,510.1 1004.0,501.8 1012.0,492.6 1020.0,482.6 1028.0,470.1 1036.0,460.0 1044.0,449.2 1052.0,440.2 1060.0,432.0 1068.0,421.9 1076.0,411.1 1084.0,401.1 1092.0,395.2 1100.0,386.0 1108.0,379.4 1116.0,376.0 1124.0,380.2 1132.0,383.5 1140.0,386.0 1148.0,390.2 1156.0,396.1 1164.1,401.9 1172.1,408.6 1180.1,413.6 1188.1,418.6 1196.1,425.3 1204.1,433.6 1212.1,442.0 1220.0,453.0 1226.9,468.4 1242.0,486.8 1255.3,501.8 1267.8,511.9" fill="none" stroke="#FF0000" stroke-width="1" stroke-linejoin="bevel"/>
<polyline points="4.0,138.0 5.5,147.5 12.0,190.0 20.0,237.5 28.0,272.0 36.0,299.0 44.0,325.5 52.0,346.5 60.0,362.5 68.0,371.8 76.0,375.0 84.0,371.0 92.0,356.0 100.0,330.0 104.0,309.0 108.0,275.0 111.3,227.5 114.5,177.5 116.6,152.5 120.0,139.2 124.5,123.4 133.6,131.0 148.5,140.1 156.0,138.3 164.4,139.0 167.0,146.9 168.4,156.8 171.8,176.8 180.1,188.5 188.5,201.9 203.5,208.6 220.2,213.9 228.6,214.9 245.3,214.4 257.0,211.6 270.3,211.6 276.2,212.7 280.0,216.2 292.7,228.7 297.0,250.3 298.8,262.5 307.5,300.0 317.5,340.0 325.0,380.0 330.0,420.0 333.6,443.0 341.8,491.9 348.4,533.6 351.8,540.0 357.2,567.0 364.3,606.8 378.5,645.2 390.2,666.9 403.5,687.0 420.3,693.3 431.9,671.9 444.5,647.7 448.6,628.5 452.8,611.8 461.2,598.5 468.7,578.4 477.0,565.9 483.7,564.2 492.1,565.4 500.4,568.4 508.8,565.1 516.3,563.4 523.8,550.9 532.2,550.4 540.0,547.0 547.2,552.5 556.0,566.4 564.1,563.4 572.1,567.6 580.1,570.9 588.1,588.4 596.1,601.5 604.0,613.0 612.2,625.7 620.0,634.4 627.9,643.6 644.0,664.4 652.0,680.0 660.0,688.3 668.0,693.7 676.0,693.3 684.0,692.8 691.9,685.3 699.9,680.0 707.9,678.3 724.0,677.3 732.0,679.5 772.1,680.3 796.0,680.3 804.0,681.6 812.0,674.9 820.0,668.9 828.0,665.3 836.0,662.3 844.0,652.7 852.0,648.6 860.0,643.5 868.0,653.3 876.0,653.3 885.0,649.2 892.5,650.8 900.0,654.2 907.8,656.3 943.3,656.3 955.8,653.3 963.8,659.2 971.7,665.0 979.7,666.3 987.7,665.0 995.7,663.3 1003.7,663.3 1011.7,655.8 1019.7,645.8 1023.3,631.7 1027.7,615.8 1035.7,608.3 1043.7,592.5 1051.7,583.5 1059.7,575.0 1067.5,564.0 1076.0,543.6 1084.0,521.8 1092.0,506.0 1095.5,490.1 1100.0,473.4 1105.5,451.7 1108.4,445.1 1116.0,423.4 1124.0,443.4 1132.0,457.0 1140.0,465.0 1148.0,474.6 1156.0,489.7 1164.0,506.8 1172.0,521.8 1180.0,537.5 1188.0,550.1 1196.0,563.9 1204.0,574.3 1212.0,582.8 1215.2,590.1 1220.0,606.8 1224.4,618.5 1228.0,626.8 1236.0,628.2 1244.0,628.2 1252.0,633.2 1260.0,625.2 1267.8,613.2" fill="none" stroke="#FF0000" stroke-width="1" stroke-linejoin="bevel"/>
<polyline points="255.3,0.0 272.0,12.5 292.1,29.2 300.4,41.8 308.8,55.1 317.1,68.5 325.5,81.8 332.2,96.9 340.5,113.6 348.9,130.3 357.2,147.0 365.6,162.0 380.2,188.4 387.5,200.0 396.9,213.4 420.0,247.5 440.0,271.5 452.0,284.0 463.7,295.5 475.0,304.5 487.0,312.5 505.0,324.8 537.5,346.2 555.0,362.5 580.0,385.0 595.0,400.0 611.7,415.9 628.4,430.1 646.8,447.6 663.5,464.3 680.2,476.0 696.9,489.4 717.0,499.4 732.0,501.0 747.0,505.2 763.7,511.6 780.4,517.7 793.8,522.8 805.5,530.3 822.2,537.0 838.9,540.6 855.6,542.8 868.4,547.9 885.0,550.0 901.8,547.7 926.8,546.1 943.5,544.4 956.9,541.0 966.9,534.4 976.9,526.8 990.3,517.7 1003.6,509.3 1015.3,504.3 1028.7,497.6 1043.7,486.8 1060.4,475.1 1073.8,466.7 1083.8,460.9 1093.8,457.5 1103.8,453.4 1113.9,450.7 1127.2,451.2 1143.9,451.8 1160.6,454.3 1180.0,459.2 1200.2,464.8 1213.6,468.4 1226.9,478.5 1242.0,484.3 1255.3,488.5 1268.0,489.3" fill="none" stroke="#0000FF" stroke-width="5.3" stroke-linejoin="round" stroke-linecap="round"/>
<polyline points="535.0,0.0 560.0,15.0 583.7,32.8 612.5,51.2 655.0,80.0 695.0,108.8 740.0,130.0 780.0,153.8 810.0,171.2 845.0,187.5 885.0,208.8 920.0,221.2 955.0,235.0 980.0,239.5 1013.4,248.4 1046.8,252.1 1080.2,255.9 1110.3,259.7 1130.3,265.1 1163.7,273.6 1188.8,280.5 1213.8,288.0 1238.9,296.3 1268.0,306.4" fill="none" stroke="#FF00FF" stroke-width="4.5" stroke-linejoin="round" stroke-linecap="round"/>
<polygon points="1157.5,0 1171.5,0 1164.5,7" fill="#000"/>
<text x="1274.4" y="508.5" font-size="23.5" font-weight="700" fill="#000" textLength="103.9" lengthAdjust="spacingAndGlyphs">00:18:16</text>
<text x="1379.9" y="508.5" font-size="23.5" font-weight="700" fill="#000">|</text>
<text x="1387.0" y="508.5" font-size="23.5" font-weight="700" fill="#000" textLength="124.4" lengthAdjust="spacingAndGlyphs">EURUSD.b</text>
<text x="1512.4" y="508.5" font-size="23.5" font-weight="700" fill="#000">|</text>
<text x="1519.1" y="508.5" font-size="23.5" font-weight="700" fill="#000" textLength="34" lengthAdjust="spacingAndGlyphs">H1</text>
</g>
<line x1="4" y1="748.5" x2="1840" y2="748.5" stroke="#000" stroke-width="1" stroke-dasharray="3 3" clip-path="url(#cd)"/>
<g clip-path="url(#cd)">
<rect x="2" y="748" width="4" height="80" fill="#000"/>
<rect x="10" y="748" width="4" height="81" fill="#000"/>
<rect x="18" y="748" width="4" height="78" fill="#000"/>
<rect x="26" y="748" width="4" height="76" fill="#000"/>
<rect x="34" y="748" width="4" height="73" fill="#000"/>
<rect x="42" y="748" width="4" height="69" fill="#000"/>
<rect x="50" y="748" width="4" height="66" fill="#000"/>
<rect x="58" y="748" width="4" height="63" fill="#000"/>
<rect x="66" y="748" width="4" height="58" fill="#000"/>
<rect x="74" y="748" width="4" height="54" fill="#000"/>
<rect x="82" y="748" width="4" height="51" fill="#000"/>
<rect x="90" y="748" width="4" height="48" fill="#000"/>
<rect x="98" y="748" width="4" height="46" fill="#000"/>
<rect x="106" y="748" width="4" height="48" fill="#000"/>
<rect x="114" y="748" width="4" height="44" fill="#000"/>
<rect x="122" y="748" width="4" height="42" fill="#000"/>
<rect x="130" y="748" width="4" height="43" fill="#000"/>
<rect x="138" y="748" width="4" height="41" fill="#000"/>
<rect x="146" y="748" width="4" height="41" fill="#000"/>
<rect x="154" y="748" width="4" height="36" fill="#000"/>
<rect x="162" y="748" width="4" height="35" fill="#000"/>
<rect x="170" y="748" width="4" height="43" fill="#000"/>
<rect x="178" y="748" width="4" height="40" fill="#000"/>
<rect x="186" y="748" width="4" height="38" fill="#000"/>
<rect x="194" y="748" width="4" height="36" fill="#000"/>
<rect x="202" y="748" width="4" height="34" fill="#000"/>
<rect x="210" y="748" width="4" height="31" fill="#000"/>
<rect x="218" y="748" width="4" height="29" fill="#000"/>
<rect x="226" y="748" width="4" height="27" fill="#000"/>
<rect x="234" y="748" width="4" height="26" fill="#000"/>
<rect x="242" y="748" width="4" height="24" fill="#000"/>
<rect x="250" y="748" width="4" height="23" fill="#000"/>
<rect x="258" y="748" width="4" height="22" fill="#000"/>
<rect x="266" y="748" width="4" height="20" fill="#000"/>
<rect x="274" y="748" width="4" height="23" fill="#000"/>
<rect x="282" y="748" width="4" height="25" fill="#000"/>
<rect x="290" y="748" width="4" height="26" fill="#000"/>
<rect x="298" y="748" width="4" height="35" fill="#000"/>
<rect x="306" y="748" width="4" height="40" fill="#000"/>
<rect x="314" y="748" width="4" height="45" fill="#000"/>
<rect x="322" y="748" width="4" height="52" fill="#000"/>
<rect x="330" y="748" width="4" height="59" fill="#000"/>
<rect x="338" y="748" width="4" height="63" fill="#000"/>
<rect x="346" y="748" width="4" height="66" fill="#000"/>
<rect x="354" y="748" width="4" height="67" fill="#000"/>
<rect x="362" y="748" width="4" height="70" fill="#000"/>
<rect x="370" y="748" width="4" height="65" fill="#000"/>
<rect x="378" y="748" width="4" height="62" fill="#000"/>
<rect x="386" y="748" width="4" height="58" fill="#000"/>
<rect x="394" y="748" width="4" height="56" fill="#000"/>
<rect x="402" y="748" width="4" height="54" fill="#000"/>
<rect x="410" y="748" width="4" height="51" fill="#000"/>
<rect x="418" y="748" width="4" height="50" fill="#000"/>
<rect x="426" y="748" width="4" height="44" fill="#000"/>
<rect x="434" y="748" width="4" height="40" fill="#000"/>
<rect x="442" y="748" width="4" height="37" fill="#000"/>
<rect x="450" y="748" width="4" height="33" fill="#000"/>
<rect x="458" y="748" width="4" height="30" fill="#000"/>
<rect x="466" y="748" width="4" height="27" fill="#000"/>
<rect x="474" y="748" width="4" height="25" fill="#000"/>
<rect x="482" y="748" width="4" height="21" fill="#000"/>
<rect x="490" y="748" width="4" height="19" fill="#000"/>
<rect x="498" y="748" width="4" height="16" fill="#000"/>
<rect x="506" y="748" width="4" height="15" fill="#000"/>
<rect x="514" y="748" width="4" height="15" fill="#000"/>
<rect x="522" y="748" width="4" height="13" fill="#000"/>
<rect x="530" y="748" width="4" height="13" fill="#000"/>
<rect x="538" y="748" width="4" height="14" fill="#000"/>
<rect x="546" y="748" width="4" height="19" fill="#000"/>
<rect x="554" y="748" width="4" height="24" fill="#000"/>
<rect x="562" y="748" width="4" height="21" fill="#000"/>
<rect x="570" y="748" width="4" height="21" fill="#000"/>
<rect x="578" y="748" width="4" height="24" fill="#000"/>
<rect x="586" y="748" width="4" height="26" fill="#000"/>
<rect x="594" y="748" width="4" height="26" fill="#000"/>
<rect x="602" y="748" width="4" height="26" fill="#000"/>
<rect x="610" y="748" width="4" height="26" fill="#000"/>
<rect x="618" y="748" width="4" height="25" fill="#000"/>
<rect x="626" y="748" width="4" height="25" fill="#000"/>
<rect x="634" y="748" width="4" height="26" fill="#000"/>
<rect x="642" y="748" width="4" height="27" fill="#000"/>
<rect x="650" y="748" width="4" height="28" fill="#000"/>
<rect x="658" y="748" width="4" height="29" fill="#000"/>
<rect x="666" y="748" width="4" height="28" fill="#000"/>
<rect x="674" y="748" width="4" height="26" fill="#000"/>
<rect x="682" y="748" width="4" height="26" fill="#000"/>
<rect x="690" y="748" width="4" height="23" fill="#000"/>
<rect x="698" y="748" width="4" height="21" fill="#000"/>
<rect x="706" y="748" width="4" height="16" fill="#000"/>
<rect x="714" y="748" width="4" height="13" fill="#000"/>
<rect x="722" y="748" width="4" height="6" fill="#000"/>
<rect x="730" y="748" width="4" height="1" fill="#000"/>
<rect x="738" y="748" width="4" height="1" fill="#000"/>
<rect x="746" y="748" width="4" height="1" fill="#000"/>
<rect x="754" y="748" width="4" height="3" fill="#000"/>
<rect x="762" y="748" width="4" height="5" fill="#000"/>
<rect x="770" y="748" width="4" height="7" fill="#000"/>
<rect x="778" y="748" width="4" height="5" fill="#000"/>
<rect x="786" y="748" width="4" height="6" fill="#000"/>
<rect x="794" y="748" width="4" height="8" fill="#000"/>
<rect x="802" y="748" width="4" height="10" fill="#000"/>
<rect x="810" y="748" width="4" height="9" fill="#000"/>
<rect x="818" y="748" width="4" height="9" fill="#000"/>
<rect x="826" y="748" width="4" height="9" fill="#000"/>
<rect x="834" y="748" width="4" height="5" fill="#000"/>
<rect x="842" y="748" width="4" height="1" fill="#000"/>
<rect x="850" y="748" width="4" height="1" fill="#000"/>
<rect x="858" y="748" width="4" height="3" fill="#000"/>
<rect x="866" y="748" width="4" height="6" fill="#000"/>
<rect x="874" y="748" width="4" height="3" fill="#000"/>
<rect x="882" y="748" width="4" height="3" fill="#000"/>
<rect x="890" y="746" width="4" height="3" fill="#000"/>
<rect x="898" y="743" width="4" height="6" fill="#000"/>
<rect x="906" y="741" width="4" height="8" fill="#000"/>
<rect x="914" y="743" width="4" height="6" fill="#000"/>
<rect x="922" y="743" width="4" height="6" fill="#000"/>
<rect x="930" y="741" width="4" height="8" fill="#000"/>
<rect x="938" y="741" width="4" height="8" fill="#000"/>
<rect x="946" y="740" width="4" height="9" fill="#000"/>
<rect x="954" y="737" width="4" height="12" fill="#000"/>
<rect x="962" y="730" width="4" height="19" fill="#000"/>
<rect x="970" y="724" width="4" height="25" fill="#000"/>
<rect x="978" y="721" width="4" height="28" fill="#000"/>
<rect x="986" y="720" width="4" height="29" fill="#000"/>
<rect x="994" y="719" width="4" height="30" fill="#000"/>
<rect x="1002" y="720" width="4" height="29" fill="#000"/>
<rect x="1010" y="722" width="4" height="27" fill="#000"/>
<rect x="1018" y="723" width="4" height="26" fill="#000"/>
<rect x="1026" y="724" width="4" height="25" fill="#000"/>
<rect x="1034" y="723" width="4" height="26" fill="#000"/>
<rect x="1042" y="723" width="4" height="26" fill="#000"/>
<rect x="1050" y="723" width="4" height="26" fill="#000"/>
<rect x="1058" y="723" width="4" height="26" fill="#000"/>
<rect x="1066" y="722" width="4" height="27" fill="#000"/>
<rect x="1074" y="722" width="4" height="27" fill="#000"/>
<rect x="1082" y="723" width="4" height="26" fill="#000"/>
<rect x="1090" y="729" width="4" height="20" fill="#000"/>
<rect x="1098" y="730" width="4" height="19" fill="#000"/>
<rect x="1106" y="731" width="4" height="18" fill="#000"/>
<rect x="1114" y="736" width="4" height="13" fill="#000"/>
<rect x="1122" y="744" width="4" height="5" fill="#000"/>
<rect x="1130" y="748" width="4" height="1" fill="#000"/>
<rect x="1138" y="748" width="4" height="1" fill="#000"/>
<rect x="1146" y="748" width="4" height="3" fill="#000"/>
<rect x="1154" y="748" width="4" height="6" fill="#000"/>
<rect x="1162" y="748" width="4" height="9" fill="#000"/>
<rect x="1170" y="748" width="4" height="11" fill="#000"/>
<rect x="1178" y="748" width="4" height="12" fill="#000"/>
<rect x="1186" y="748" width="4" height="13" fill="#000"/>
<rect x="1194" y="748" width="4" height="14" fill="#000"/>
<rect x="1202" y="748" width="4" height="14" fill="#000"/>
<rect x="1210" y="748" width="4" height="15" fill="#000"/>
<rect x="1218" y="748" width="4" height="21" fill="#000"/>
<rect x="1226" y="748" width="4" height="25" fill="#000"/>
<rect x="1234" y="748" width="4" height="20" fill="#000"/>
<rect x="1242" y="748" width="4" height="18" fill="#000"/>
<rect x="1250" y="748" width="4" height="18" fill="#000"/>
<rect x="1258" y="748" width="4" height="13" fill="#000"/>
<rect x="1266" y="748" width="4" height="8" fill="#000"/>
<polyline points="5.0,816.9 12.5,824.4 20.0,827.3 30.0,827.7 40.0,825.8 50.0,822.0 60.0,817.6 70.0,813.2 80.0,808.3 90.0,803.9 100.0,799.6 110.0,796.7 120.0,794.6 130.0,792.8 140.0,791.7 150.0,790.2 160.0,789.0 170.0,788.5 180.0,788.3 190.0,787.7 205.0,787.0 215.0,784.5 225.0,780.7 235.0,777.0 255.0,773.5 275.0,770.5 287.5,770.5 300.0,774.3 315.0,781.8 330.0,793.0 345.0,803.0 357.5,810.5 370.0,814.3 380.0,814.3 395.0,810.5 412.5,804.3 430.0,799.3 450.0,790.5 467.5,782.5 480.0,778.7 495.0,771.8 512.5,766.0 530.0,762.5 542.5,762.5 555.0,766.0 570.0,769.3 587.5,773.0 610.0,775.5 635.0,775.5 660.0,776.0 685.0,775.5 700.0,773.5 715.0,769.3 730.0,761.8 742.5,756.0 755.0,753.0 770.0,753.5 787.5,754.3 802.5,756.8 817.5,758.0 835.0,758.0 850.0,755.0 870.0,752.5 890.0,751.0 905.0,746.8 920.0,743.5 937.5,741.8 952.5,740.5 967.5,736.8 982.5,729.3 997.5,722.5 1010.0,720.0 1022.5,720.0 1040.0,722.5 1085.0,722.5 1102.5,725.0 1115.0,728.5 1127.5,734.3 1140.0,740.5 1155.0,748.0 1170.0,754.3 1185.0,758.0 1200.0,760.0 1215.0,761.8 1230.0,766.0 1240.0,768.0 1252.5,768.0 1262.5,766.8 1268.8,764.3" fill="none" stroke="#FF0000" stroke-width="3" stroke-linejoin="round" stroke-linecap="round"/>
<rect x="5" y="709" width="300" height="20" fill="#fff"/>
<text filter="url(#th)" x="6.8" y="726" fill="#000" letter-spacing="0.13">MACD(5,34,5) -0.000657 -0.001312</text>
</g>
<line x1="4" y1="876.5" x2="1840" y2="876.5" stroke="#00008B" stroke-width="1" stroke-dasharray="3 3" clip-path="url(#cr)"/>
<line x1="4" y1="897.5" x2="1840" y2="897.5" stroke="#0000FF" stroke-width="1" stroke-dasharray="3 3" clip-path="url(#cr)"/>
<line x1="4" y1="919.5" x2="1840" y2="919.5" stroke="#00008B" stroke-width="1" stroke-dasharray="3 3" clip-path="url(#cr)"/>
<g clip-path="url(#cr)">
<polyline points="5.0,926.8 12.5,930.0 21.0,924.3 60.0,924.3 68.8,920.5 100.0,920.5 108.0,926.0 115.5,915.0 123.8,915.0 133.8,918.8 148.8,918.8 156.3,908.0 163.8,913.0 172.5,921.8 180.0,913.0 190.0,913.0 196.3,907.5 212.5,906.8 250.0,906.8 255.0,908.0 268.8,906.8 282.5,913.5 292.5,913.5 301.3,925.5 308.8,925.0 322.5,930.5 332.5,932.5 340.0,930.0 347.5,931.8 355.0,929.3 365.0,930.0 372.5,920.0 380.0,920.0 387.5,917.5 397.5,919.3 412.5,917.5 420.0,920.0 428.8,908.5 445.0,909.3 455.0,906.8 470.0,906.3 480.0,903.0 492.5,902.5 501.3,900.5 510.0,902.5 517.5,902.5 525.0,900.5 532.5,903.0 555.0,919.3 564.5,906.0 585.0,913.5 612.5,913.5 620.0,911.8 627.5,911.8 652.5,920.0 667.5,915.5 676.3,910.5 683.8,915.0 691.3,907.5 700.0,908.0 708.8,898.5 716.3,898.5 723.8,890.0 732.5,891.0 740.0,898.0 751.3,898.0 771.3,903.8 780.0,896.8 788.8,902.5 803.8,907.3 815.0,902.5 827.5,900.5 843.8,892.5 852.5,898.0 860.0,899.3 868.3,908.0 876.3,893.0 883.8,898.0 893.8,889.8 902.5,890.5 917.5,893.5 925.0,893.5 932.0,889.3 940.8,895.0 948.8,890.0 955.0,887.5" fill="none" stroke="#FF0000" stroke-width="4" stroke-linejoin="round"/>
<polyline points="1155.0,908.0 1175.0,910.5 1197.5,911.8 1205.0,910.0 1211.3,912.5 1220.0,923.5 1228.8,923.5 1236.3,906.0 1251.3,908.8 1261.3,897.5 1268.8,895.0" fill="none" stroke="#FF0000" stroke-width="4" stroke-linejoin="round"/>
<polyline points="955.0,887.5 960.0,881.8 965.0,879.0 992.0,879.0 994.0,880.0 1006.0,880.0 1012.5,881.8 1028.8,880.5 1037.5,876.8 1055.0,877.5 1067.5,874.3 1075.0,878.8 1082.5,881.3 1093.0,891.0 1101.3,886.8 1110.0,886.8 1116.3,899.3 1123.8,908.0 1130.0,906.8 1140.0,900.5 1155.0,908.0" fill="none" stroke="#008000" stroke-width="4" stroke-linejoin="round"/>
<rect x="5" y="844" width="150" height="19" fill="#fff"/>
<text filter="url(#th)" x="6.8" y="861" fill="#000" letter-spacing="0.17">RSI(14) 52.13</text>
</g>
<rect x="0" y="0" width="1" height="976" fill="#ABABAB"/>
<rect x="1" y="0" width="1" height="976" fill="#6D6D6D"/>
<rect x="1917" y="0" width="1" height="976" fill="#F4F4F4"/>
<rect x="1918" y="0" width="1" height="976" fill="#E0E0E0"/>
<rect x="4" y="0" width="1" height="707" fill="#000"/>
<rect x="4" y="708" width="1" height="134" fill="#000"/>
<rect x="4" y="843" width="1" height="114" fill="#000"/>
<rect x="1840" y="0" width="1" height="707" fill="#000"/>
<rect x="1840" y="708" width="1" height="134" fill="#000"/>
<rect x="1840" y="843" width="1" height="110" fill="#000"/>
<rect x="4" y="706" width="1837" height="1" fill="#000"/>
<rect x="4" y="708" width="1837" height="1" fill="#000"/>
<rect x="1841" y="709" width="4" height="1" fill="#000"/>
<rect x="4" y="841" width="1837" height="1" fill="#000"/>
<rect x="1841" y="840" width="4" height="1" fill="#000"/>
<rect x="4" y="843" width="1837" height="1" fill="#000"/>
<rect x="1841" y="844" width="4" height="1" fill="#000"/>
<rect x="4" y="952" width="1837" height="1" fill="#000"/>
<rect x="1841" y="951" width="4" height="1" fill="#000"/>
<rect x="1841" y="5" width="4" height="1" fill="#000"/>
<text filter="url(#th)" x="1846.3" y="11" fill="#000" letter-spacing="0.3">1.07585</text>
<rect x="1841" y="68" width="4" height="1" fill="#000"/>
<text filter="url(#th)" x="1846.3" y="74" fill="#000" letter-spacing="0.3">1.07440</text>
<rect x="1841" y="132" width="4" height="1" fill="#000"/>
<text filter="url(#th)" x="1846.3" y="138" fill="#000" letter-spacing="0.3">1.07295</text>
<rect x="1841" y="196" width="4" height="1" fill="#000"/>
<text filter="url(#th)" x="1846.3" y="202" fill="#000" letter-spacing="0.3">1.07150</text>
<rect x="1841" y="260" width="4" height="1" fill="#000"/>
<text filter="url(#th)" x="1846.3" y="266" fill="#000" letter-spacing="0.3">1.07005</text>
<rect x="1841" y="323" width="4" height="1" fill="#000"/>
<text filter="url(#th)" x="1846.3" y="329" fill="#000" letter-spacing="0.3">1.06860</text>
<rect x="1841" y="387" width="4" height="1" fill="#000"/>
<text filter="url(#th)" x="1846.3" y="393" fill="#000" letter-spacing="0.3">1.06715</text>
<rect x="1841" y="451" width="4" height="1" fill="#000"/>
<text filter="url(#th)" x="1846.3" y="457" fill="#000" letter-spacing="0.3">1.06570</text>
<rect x="1841" y="515" width="4" height="1" fill="#000"/>
<text filter="url(#th)" x="1846.3" y="521" fill="#000" letter-spacing="0.3">1.06425</text>
<rect x="1841" y="578" width="4" height="1" fill="#000"/>
<text filter="url(#th)" x="1846.3" y="584" fill="#000" letter-spacing="0.3">1.06280</text>
<rect x="1841" y="642" width="4" height="1" fill="#000"/>
<text filter="url(#th)" x="1846.3" y="648" fill="#000" letter-spacing="0.3">1.06135</text>
<rect x="1843" y="475" width="60" height="19" fill="#26A69A"/>
<rect x="1843" y="475" width="60" height="2" fill="#F04848"/>
<text filter="url(#th)" x="1847.5" y="491" fill="#fff" letter-spacing="0.25">1.06493</text>
<text filter="url(#th)" x="1845.5" y="722" fill="#000" letter-spacing="0.3">0.003468</text>
<rect x="1841" y="748" width="4" height="1" fill="#000"/>
<text filter="url(#th)" x="1846.3" y="754" fill="#000" letter-spacing="0.3">0.000000</text>
<text filter="url(#th)" x="1845.5" y="838" fill="#000" letter-spacing="0.3">-0.007981</text>
<text filter="url(#th)" x="1845.5" y="857" fill="#000" letter-spacing="0.3">100.00</text>
<rect x="1841" y="876" width="4" height="1" fill="#000"/>
<text filter="url(#th)" x="1846.3" y="882" fill="#000" letter-spacing="0.3">70.00</text>
<rect x="1841" y="897" width="4" height="1" fill="#000"/>
<text filter="url(#th)" x="1846.3" y="903" fill="#000" letter-spacing="0.3">50.00</text>
<rect x="1841" y="919" width="4" height="1" fill="#000"/>
<text filter="url(#th)" x="1846.3" y="925" fill="#000" letter-spacing="0.3">30.00</text>
<text filter="url(#th)" x="1845.5" y="949" fill="#000" letter-spacing="0.3">0.00</text>
<rect x="4" y="953" width="1" height="4" fill="#000"/>
<text filter="url(#th)" x="4.7" y="970" fill="#000" letter-spacing="0.1">10 Apr 2024</text>
<rect x="132" y="953" width="1" height="4" fill="#000"/>
<text filter="url(#th)" x="132.7" y="970" fill="#000" letter-spacing="0.1">11 Apr 12:00</text>
<rect x="260" y="953" width="1" height="4" fill="#000"/>
<text filter="url(#th)" x="260.7" y="970" fill="#000" letter-spacing="0.1">12 Apr 04:00</text>
<rect x="388" y="953" width="1" height="4" fill="#000"/>
<text filter="url(#th)" x="388.7" y="970" fill="#000" letter-spacing="0.1">12 Apr 20:00</text>
<rect x="516" y="953" width="1" height="4" fill="#000"/>
<text filter="url(#th)" x="516.7" y="970" fill="#000" letter-spacing="0.1">15 Apr 12:00</text>
<rect x="644" y="953" width="1" height="4" fill="#000"/>
<text filter="url(#th)" x="644.7" y="970" fill="#000" letter-spacing="0.1">16 Apr 04:00</text>
<rect x="772" y="953" width="1" height="4" fill="#000"/>
<text filter="url(#th)" x="772.7" y="970" fill="#000" letter-spacing="0.1">16 Apr 20:00</text>
<rect x="900" y="953" width="1" height="4" fill="#000"/>
<text filter="url(#th)" x="900.7" y="970" fill="#000" letter-spacing="0.1">17 Apr 12:00</text>
<rect x="1028" y="953" width="1" height="4" fill="#000"/>
<text filter="url(#th)" x="1028.7" y="970" fill="#000" letter-spacing="0.1">18 Apr 04:00</text>
<rect x="1156" y="953" width="1" height="4" fill="#000"/>
<text filter="url(#th)" x="1156.7" y="970" fill="#000" letter-spacing="0.1">18 Apr 20:00</text>
</svg></body></html>
